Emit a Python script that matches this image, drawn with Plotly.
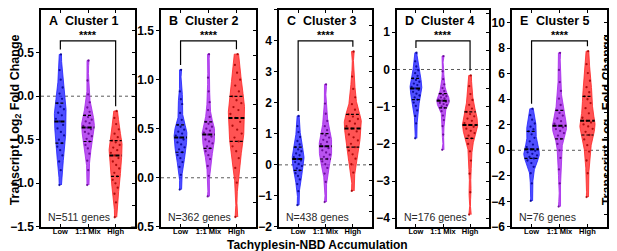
import numpy as np
import plotly.graph_objects as go

# ---------------- data ----------------
groups = ["Low", "1:1 Mix", "High"]
cluster_names = ["Cluster 1", "Cluster 2", "Cluster 3", "Cluster 4", "Cluster 5"]
panel_letters = ["A", "B", "C", "D", "E"]
gene_counts = [511, 362, 438, 176, 76]

c1_low = [-1.02, -0.85, -0.75, -0.68, -0.62, -0.58, -0.54, -0.50, -0.45, -0.41, -0.37, -0.33, -0.29,
          -0.26, -0.22, -0.19, -0.15, -0.12, -0.08, -0.03, 0.03, 0.10, 0.19, 0.30, 0.48]
c1_mix = [-1.02, -0.85, -0.74, -0.66, -0.60, -0.56, -0.52, -0.49, -0.46, -0.43, -0.41, -0.38, -0.36,
          -0.34, -0.31, -0.29, -0.27, -0.24, -0.22, -0.18, -0.13, -0.07, 0.02, 0.18, 0.41]
c1_high = [-1.39, -1.22, -1.12, -1.05, -1.00, -0.96, -0.92, -0.88, -0.83, -0.79, -0.75, -0.71, -0.68,
           -0.65, -0.62, -0.59, -0.56, -0.53, -0.51, -0.47, -0.43, -0.38, -0.32, -0.25, -0.17]

c2_low = [-0.12, 0.03, 0.11, 0.16, 0.20, 0.23, 0.26, 0.29, 0.31, 0.34, 0.36, 0.39, 0.41,
          0.43, 0.45, 0.47, 0.49, 0.52, 0.54, 0.59, 0.66, 0.75, 0.80, 0.88, 1.10]
c2_mix = [-0.19, 0.02, 0.12, 0.19, 0.23, 0.27, 0.30, 0.32, 0.35, 0.37, 0.39, 0.42, 0.44,
          0.46, 0.48, 0.50, 0.52, 0.55, 0.57, 0.62, 0.69, 0.77, 0.88, 1.02, 1.26]
c2_high = [-0.40, -0.05, 0.10, 0.20, 0.27, 0.32, 0.37, 0.41, 0.45, 0.49, 0.53, 0.57, 0.61,
           0.65, 0.69, 0.72, 0.76, 0.79, 0.83, 0.88, 0.94, 1.00, 1.07, 1.15, 1.26]

c3_low = [-1.30, -0.85, -0.62, -0.47, -0.36, -0.27, -0.18, -0.11, -0.04, 0.03, 0.09, 0.14, 0.19,
          0.25, 0.31, 0.37, 0.44, 0.50, 0.57, 0.66, 0.77, 0.90, 1.06, 1.25, 1.58]
c3_mix = [-1.20, -0.55, -0.28, -0.10, 0.02, 0.11, 0.19, 0.26, 0.33, 0.40, 0.47, 0.54, 0.60,
          0.67, 0.74, 0.81, 0.88, 0.95, 1.01, 1.12, 1.25, 1.42, 1.65, 1.98, 2.60]
c3_high = [-0.84, -0.25, 0.02, 0.20, 0.34, 0.46, 0.57, 0.68, 0.79, 0.89, 0.98, 1.08, 1.17,
           1.25, 1.33, 1.41, 1.48, 1.56, 1.63, 1.78, 1.96, 2.18, 2.45, 2.85, 3.66]

c4_low = [-1.85, -1.45, -1.25, -1.10, -0.98, -0.89, -0.81, -0.75, -0.70, -0.65, -0.60, -0.55, -0.51,
          -0.47, -0.42, -0.38, -0.33, -0.28, -0.24, -0.17, -0.10, -0.02, 0.08, 0.22, 0.45]
c4_mix = [-2.16, -1.75, -1.52, -1.36, -1.24, -1.12, -1.03, -0.99, -0.96, -0.93, -0.90, -0.87, -0.84,
          -0.81, -0.78, -0.75, -0.72, -0.68, -0.65, -0.58, -0.50, -0.40, -0.26, -0.05, 0.36]
c4_high = [-3.90, -3.30, -2.80, -2.45, -2.20, -2.00, -1.85, -1.78, -1.71, -1.65, -1.59, -1.54, -1.49,
           -1.44, -1.38, -1.32, -1.26, -1.20, -1.14, -1.05, -0.95, -0.82, -0.66, -0.45, -0.16]

c5_low = [-3.97, -2.60, -1.80, -1.30, -1.00, -0.80, -0.64, -0.52, -0.40, -0.28, -0.16, -0.04, 0.08,
          0.25, 0.45, 0.70, 0.98, 1.25, 1.49, 1.65, 1.85, 2.10, 2.40, 2.75, 3.26]
c5_mix = [-4.41, -2.60, -1.50, -0.60, 0.00, 0.50, 0.90, 1.15, 1.35, 1.52, 1.66, 1.80, 1.92,
          2.08, 2.28, 2.50, 2.72, 2.93, 3.13, 3.55, 4.05, 4.65, 5.35, 6.30, 7.64]
c5_high = [-3.67, -1.80, -0.80, -0.10, 0.40, 0.85, 1.20, 1.45, 1.68, 1.87, 2.03, 2.18, 2.31,
           2.55, 2.90, 3.30, 3.70, 4.00, 4.23, 4.55, 4.95, 5.45, 6.05, 6.75, 7.77]

panel_data = [
    [c1_low, c1_mix, c1_high],
    [c2_low, c2_mix, c2_high],
    [c3_low, c3_mix, c3_high],
    [c4_low, c4_mix, c4_high],
    [c5_low, c5_mix, c5_high],
]

y_ranges = [[-1.5, 0.99], [-0.5, 1.71], [-2, 5], [-4.23, 1.6], [-6, 11.0]]
y_tick0 = [-1.5, -0.5, -2, -4, -6]
y_dticks = [0.5, 0.5, 1, 1, 2]
y_formats = [".1f", ".1f", "d", "d", "d"]

# ---------------- style ----------------
W, H = 617, 251
FONT = "Liberation Sans, Arial, sans-serif"
panel_px = [(33, 127), (153, 248), (271, 364), (389, 481), (504, 599)]
TOP_PX, BOT_PX = 1, 225
violin_widths = [[0.62, 0.66, 0.68], [0.66, 0.64, 0.83], [0.62, 0.66, 0.90],
                 [0.62, 0.66, 0.80], [0.80, 0.72, 0.78]]
WIDTH_SCALE = 0.7
colors = [(30, 30, 255), (165, 35, 235), (255, 35, 35)]
pt_colors = ["rgb(0,0,140)", "rgb(95,0,140)", "rgb(160,0,0)"]
X_RANGE = [-0.7, 2.7]
BW_FACTOR = 0.5
GOLDEN = 0.6180339887


def px(x):
    return x / W


def py(y):
    return 1 - y / H


def y_at_px(k, ypix):
    lo, hi = y_ranges[k]
    return hi - (ypix - TOP_PX) / (BOT_PX - TOP_PX) * (hi - lo)


def silverman(v):
    v = np.asarray(v, float)
    sd = v.std(ddof=1)
    iqr = np.percentile(v, 75) - np.percentile(v, 25)
    return 1.059 * min(sd, iqr / 1.349) * len(v) ** -0.2


def kde(v, bw, t):
    v = np.asarray(v, float)
    t = np.atleast_1d(np.asarray(t, float))
    return np.exp(-0.5 * ((t[:, None] - v[None, :]) / bw) ** 2).sum(1)


fig = go.Figure()
shapes = []
annotations = []

for k in range(5):
    xa = "x" if k == 0 else f"x{k + 1}"
    ya = "y" if k == 0 else f"y{k + 1}"
    yr = f"y{k + 6}"
    for j, vals in enumerate(panel_data[k]):
        v = np.asarray(vals, float)
        bw = BW_FACTOR * silverman(v)
        w = violin_widths[k][j] * WIDTH_SCALE
        r, g, b = colors[j]
        grid = np.linspace(v.min(), v.max(), 300)
        dens = kde(v, bw, grid)
        dmax = dens.max()
        hw_grid = w / 2 * dens / dmax
        # violin body (kernel density outline)
        fig.add_trace(go.Scatter(
            x=np.concatenate([j + hw_grid, (j - hw_grid)[::-1]]),
            y=np.concatenate([grid, grid[::-1]]),
            xaxis=xa, yaxis=ya, mode="lines", fill="toself",
            fillcolor=f"rgba({r},{g},{b},0.78)",
            line=dict(color=f"rgb({r},{g},{b})", width=0.8),
            showlegend=False, hoverinfo="skip",
        ))
        # individual values, spread inside the violin width
        hw_pts = w / 2 * kde(v, bw, v) / dmax
        spread = np.array([2 * ((i * GOLDEN) % 1) - 1 for i in range(len(v))]) * 0.8
        fig.add_trace(go.Scatter(
            x=j + hw_pts * spread, y=v, xaxis=xa, yaxis=ya, mode="markers",
            marker=dict(size=2.3, color=pt_colors[j], opacity=0.85),
            showlegend=False, hoverinfo="skip",
        ))
        # quartile lines
        q1, med, q3 = np.percentile(v, [25, 50, 75])
        for qv, lw, dash in [(q1, 1.2, "3px,2px"), (q3, 1.2, "3px,2px"), (med, 2.0, "4px,2px")]:
            hw = w / 2 * kde(v, bw, qv)[0] / dmax
            fig.add_trace(go.Scatter(
                x=[j - hw, j + hw], y=[qv, qv], xaxis=xa, yaxis=ya, mode="lines",
                line=dict(color="black", width=lw, dash=dash),
                showlegend=False, hoverinfo="skip",
            ))
    # invisible trace for the right-side tick axis
    fig.add_trace(go.Scatter(x=[0], y=[y_ranges[k][0]], xaxis=xa, yaxis=yr, mode="markers",
                             marker=dict(opacity=0), showlegend=False, hoverinfo="skip"))

    x0p, x1p = panel_px[k]
    dom_x = [px(x0p), px(x1p)]
    dom_y = [py(BOT_PX), py(TOP_PX)]
    fig.layout[f"xaxis{'' if k == 0 else k + 1}"] = dict(
        domain=dom_x, anchor=ya, range=X_RANGE, autorange=False,
        tickmode="array", tickvals=[0, 1, 2], ticktext=groups,
        ticks="inside", ticklen=3, tickwidth=1.3, tickcolor="black",
        showline=True, linecolor="black", linewidth=1.5, mirror="ticks",
        showgrid=False, zeroline=False, ticklabelstandoff=-4,
        tickfont=dict(family=FONT, size=7.5, color="black", weight="bold"),
        fixedrange=True,
    )
    fig.layout[f"yaxis{'' if k == 0 else k + 1}"] = dict(
        domain=dom_y, anchor=xa, range=y_ranges[k], autorange=False,
        tickmode="linear", tick0=y_tick0[k], dtick=y_dticks[k], tickformat=y_formats[k],
        ticks="outside", ticklen=3, tickwidth=1.3, tickcolor="black",
        showline=True, linecolor="black", linewidth=1.5, mirror=True,
        showgrid=False, zeroline=False,
        tickfont=dict(family=FONT, size=12, color="black", weight="bold"),
        fixedrange=True,
    )
    fig.layout[f"yaxis{k + 6}"] = dict(
        domain=dom_y, anchor=xa, overlaying=ya, side="right", range=y_ranges[k],
        autorange=False,
        tickmode="linear", tick0=y_tick0[k], dtick=y_dticks[k] / 2,
        ticks="inside", ticklen=3, tickwidth=1.3, tickcolor="black",
        showticklabels=False, showline=False, showgrid=False, zeroline=False,
        fixedrange=True,
    )

    # zero dotted line
    shapes.append(dict(type="line", xref=f"{xa} domain", yref=ya, x0=0, x1=1, y0=0, y1=0,
                       line=dict(color="rgb(90,90,90)", width=1, dash="dot"), layer="below"))
    # significance bracket
    yb = y_at_px(k, 33)
    off = (y_ranges[k][1] - y_ranges[k][0]) / (BOT_PX - TOP_PX) * 5
    yl = max(panel_data[k][0]) + off
    yh = max(panel_data[k][2]) + off
    shapes.append(dict(type="path", xref=xa, yref=ya,
                       path=f"M 0,{yl} L 0,{yb} L 2,{yb} L 2,{yh}",
                       line=dict(color="black", width=1.2)))
    annotations.append(dict(x=1, xref=xa, y=py(27), yref="paper", text="****", showarrow=False,
                            font=dict(family=FONT, size=11, color="black", weight="bold"),
                            xanchor="center", yanchor="middle"))
    # panel titles
    annotations.append(dict(x=px(x0p + 6), y=py(12), xref="paper", yref="paper",
                            text=panel_letters[k], showarrow=False, xanchor="left", yanchor="middle",
                            font=dict(family=FONT, size=12.5, color="black", weight="bold")))
    annotations.append(dict(x=px(x0p + 22), y=py(12), xref="paper", yref="paper",
                            text=cluster_names[k], showarrow=False, xanchor="left", yanchor="middle",
                            font=dict(family=FONT, size=12.5, color="black", weight="bold")))
    # gene count
    annotations.append(dict(x=px(x0p + 5), y=py(215), xref="paper", yref="paper",
                            text=f"N={gene_counts[k]} genes", showarrow=False,
                            xanchor="left", yanchor="middle",
                            font=dict(family=FONT, size=10.5, color="rgb(40,40,40)")))

ytitle = "Transcript Log<sub>2</sub> Fold Change"
for xp in (8, 600):
    annotations.append(dict(x=px(xp), y=py(115), xref="paper", yref="paper", text=ytitle,
                            textangle=-90, showarrow=False, xanchor="center", yanchor="middle",
                            font=dict(family=FONT, size=12.5, color="black", weight="bold")))
annotations.append(dict(x=px(309), y=py(244), xref="paper", yref="paper",
                        text="Tachyplesin-NBD Accumulation", showarrow=False,
                        xanchor="center", yanchor="middle",
                        font=dict(family=FONT, size=12, color="black", weight="bold")))

fig.update_layout(
    width=W, height=H, margin=dict(l=0, r=0, t=0, b=0),
    paper_bgcolor="white", plot_bgcolor="white",
    shapes=shapes, annotations=annotations, showlegend=False,
)

fig.write_html("out.html")
